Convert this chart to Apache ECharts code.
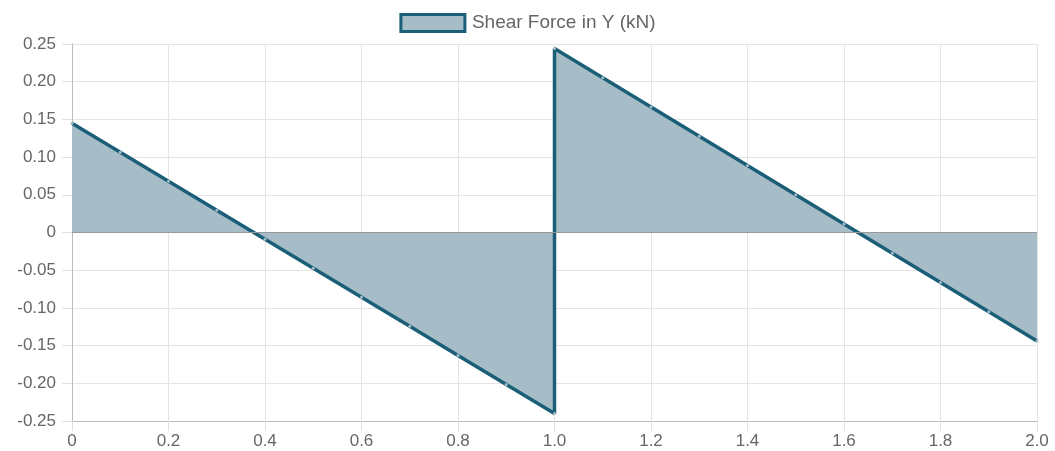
<!DOCTYPE html>
<html>
<head>
<meta charset="utf-8">
<script src="https://cdn.jsdelivr.net/npm/echarts@6/dist/echarts.min.js"></script>
<style>
html,body{margin:0;padding:0;background:#fff;}
#c{width:1055px;height:451px;}
</style>
</head>
<body>
<div id="c"></div>
<script>
const seriesName = 'Shear Force in Y (kN)';
const positions = [0, 0.1, 0.2, 0.3, 0.4, 0.5, 0.6, 0.7, 0.8, 0.9, 1.0, 1.0, 1.1, 1.2, 1.3, 1.4, 1.5, 1.6, 1.7, 1.8, 1.9, 2.0];
const shearValues = [0.145, 0.1065, 0.068, 0.0295, -0.009, -0.0475, -0.086, -0.1245, -0.163, -0.2015, -0.240,
                     0.244, 0.2052, 0.1664, 0.1276, 0.0888, 0.050, 0.0112, -0.0276, -0.0664, -0.1052, -0.144];
const xTickLabels = ['0','0.2','0.4','0.6','0.8','1.0','1.2','1.4','1.6','1.8','2.0'];
const yTickLabels = ['-0.25','-0.20','-0.15','-0.10','-0.05','0','0.05','0.10','0.15','0.20','0.25'];

const lineColor = '#1b5e78';
const fillColor = '#a6bdc8';
const data = positions.map((p, i) => [p, shearValues[i]]);

const chart = echarts.init(document.getElementById('c'), null, {renderer: 'canvas'});
chart.setOption({
  animation: false,
  textStyle: {fontFamily: 'Liberation Sans, Arial, sans-serif'},
  legend: {
    top: 8,
    left: 'center',
    itemWidth: 64,
    itemHeight: 17,
    itemGap: 10,
    textStyle: {color: '#666', fontSize: 19, padding: [0, 0, 0, 2], fontFamily: 'Liberation Sans, Arial, sans-serif'},
    data: [{name: seriesName, icon: 'rect', itemStyle: {color: fillColor, borderColor: lineColor, borderWidth: 3}}]
  },
  grid: {left: 72, right: 18, top: 44, bottom: 30, containLabel: false},
  xAxis: {
    type: 'value', min: 0, max: 2, interval: 0.2,
    axisLine: {onZero: false, lineStyle: {color: '#bbb'}},
    axisTick: {show: true, length: 10, lineStyle: {color: '#e0e0e0'}},
    splitLine: {show: true, lineStyle: {color: '#e4e4e4'}},
    axisLabel: {color: '#666', fontSize: 17, margin: 12,
      formatter: v => xTickLabels[Math.round(v / 0.2)]}
  },
  yAxis: {
    type: 'value', min: -0.25, max: 0.25, interval: 0.05,
    axisLine: {show: true, lineStyle: {color: '#bbb'}},
    axisTick: {show: true, length: 10, lineStyle: {color: '#e0e0e0'}},
    splitLine: {show: true, lineStyle: {color: '#e4e4e4'}},
    axisLabel: {color: '#666', fontSize: 17, margin: 16,
      formatter: v => yTickLabels[Math.round((v + 0.25) / 0.05)]}
  },
  series: [{
    name: seriesName,
    type: 'line',
    data: data,
    showSymbol: true,
    symbol: 'circle',
    symbolSize: 3,
    itemStyle: {color: '#a4bfc9', borderColor: '#a4bfc9', borderWidth: 0},
    lineStyle: {color: lineColor, width: 3.5},
    areaStyle: {color: fillColor, opacity: 1, origin: 'auto'},
    markLine: {
      silent: true, symbol: 'none', label: {show: false},
      lineStyle: {color: '#999', width: 1, type: 'solid'},
      data: [{yAxis: 0}]
    },
    z: 3
  }]
});
</script>
</body>
</html>
